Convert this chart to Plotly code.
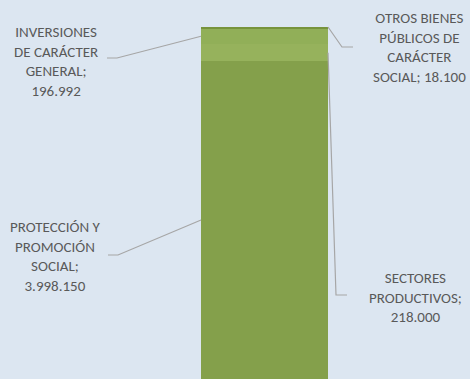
import plotly.graph_objects as go

# ---- data (bottom to top of the stacked column)
categorias = ["PROTECCIÓN Y<br>PROMOCIÓN<br>SOCIAL;<br>3.998.150",
              "SECTORES<br>PRODUCTIVOS;<br>218.000",
              "INVERSIONES<br>DE CARÁCTER<br>GENERAL;<br>196.992",
              "OTROS BIENES<br>PÚBLICOS DE<br>CARÁCTER<br>SOCIAL; 18.100"]
valores = [3998150, 218000, 196992, 18100]
colores = ["#84a04b", "#96b25c", "#91af58", "#77933c"]

W, H = 470, 379
XMIN, XMAX = -2.083, 1.618
YMIN, YMAX = -4000, 4771000

def px_x(p):
    return XMIN + p / W * (XMAX - XMIN)

def px_y(p):
    return YMAX - p / H * (YMAX - YMIN)

fig = go.Figure()
for v, c in zip(valores, colores):
    fig.add_trace(go.Bar(x=[0], y=[v], width=1, marker=dict(color=c, line_width=0),
                         showlegend=False, hoverinfo="skip"))

# label placement: (label centre x px, centre y px, line-end x px, elbow x px, elbow y px, side)
etiquetas = [(55, 256, 108, 118, 255, "left"),
             (415, 297, 347, 336, 295, "right"),
             (56, 61, 107, 117, 58, "left"),
             (419, 47, 353, 342, 47, "right")]

base = 0
for (cx, cy, ex, bx, by, side), v, txt in zip(etiquetas, valores, categorias):
    mid = base + v / 2
    if v == valores[-1]:
        mid = base + v
    base += v
    edge = -0.5 if side == "left" else 0.5
    fig.add_trace(go.Scatter(x=[px_x(ex), px_x(bx), edge], y=[px_y(by), px_y(by), mid],
                             mode="lines", line=dict(color="#a6a6a6", width=1.2),
                             showlegend=False, hoverinfo="skip"))
    fig.add_annotation(x=px_x(cx), y=px_y(cy), text=txt, showarrow=False,
                       xanchor="center", yanchor="middle", align="center",
                       font=dict(family="Carlito, Lato", size=15, color="#595959"))

fig.update_layout(width=W, height=H, margin=dict(l=0, r=0, t=0, b=0),
                  barmode="stack", plot_bgcolor="#dce6f1", paper_bgcolor="#dce6f1",
                  xaxis=dict(range=[XMIN, XMAX], visible=False, fixedrange=True),
                  yaxis=dict(range=[YMIN, YMAX], visible=False, fixedrange=True),
                  bargap=0)
fig.write_html("out.html", config={"displayModeBar": False},
               post_script="document.body.style.margin='0';document.body.style.overflow='hidden';")
